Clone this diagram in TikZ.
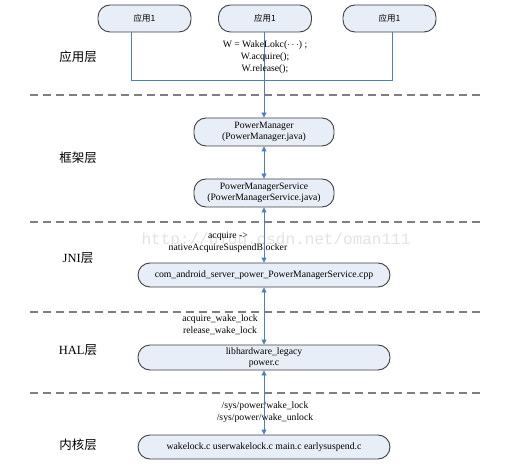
\documentclass[tikz,border=0pt]{standalone}
\usepackage{fontspec}
\setmainfont{Liberation Serif}
\setmonofont{Liberation Mono}
\newfontfamily\cjk{Noto Sans CJK SC}
\usetikzlibrary{arrows.meta,shapes.misc}
\definecolor{boxfill}{HTML}{E8EEF7}
\definecolor{boxline}{HTML}{404040}
\definecolor{linkblue}{HTML}{4A7EC8}
\definecolor{dashgray}{HTML}{7F7F7F}
\tikzset{
  layerbox/.style={draw=boxline, line width=0.9pt, fill=boxfill, rounded corners=12pt,
    font=\fontsize{9.7}{11.5}\selectfont, align=center, inner sep=0pt},
  appbox/.style={layerbox, minimum width=93pt, minimum height=27pt, font=\cjk\fontsize{8.5}{10}\selectfont},
  layerlabel/.style={font=\cjk\fontsize{12.5}{14}\selectfont, anchor=center},
  note/.style={font=\fontsize{9.7}{12}\selectfont, align=center, inner sep=0pt},
  link/.style={draw=linkblue, line width=0.9pt},
  tip/.style={-{Triangle[width=5pt,length=5pt]}},
  biarrow/.style={link, {Triangle[width=5pt,length=5pt]}-{Triangle[width=5pt,length=5pt]}},
  divider/.style={draw=dashgray, line width=1.6pt, dash pattern=on 8pt off 5pt}
}
\begin{document}
\begin{tikzpicture}[x=1pt,y=-1pt]
\useasboundingbox (0,0) rectangle (524,470);
\fill[white] (0,0) rectangle (524,470);

% watermark
\node[font=\ttfamily\fontsize{16}{16}\selectfont, text=black!11, inner sep=0pt] (wm) at (276,240) {http://blog.csdn.net/oman111};

% dividers
\coordinate (d1l) at (30,95);  \coordinate (d1r) at (480,95);
\coordinate (d2l) at (30,222); \coordinate (d2r) at (480,222);
\coordinate (d3l) at (30,312); \coordinate (d3r) at (480,312);
\coordinate (d4l) at (30,393); \coordinate (d4r) at (480,393);
\draw[divider] (d1l) -- (d1r);
\draw[divider] (d2l) -- (d2r);
\draw[divider] (d3l) -- (d3r);
\draw[divider] (d4l) -- (d4r);

% layer labels
\node[layerlabel] (l1) at (78,57) {应用层};
\node[layerlabel] (l2) at (78,158) {框架层};
\node[layerlabel] (l3) at (78,258) {{\rmfamily JNI}层};
\node[layerlabel] (l4) at (78,350) {{\rmfamily HAL}层};
\node[layerlabel] (l5) at (78,445) {内核层};

% app boxes
\node[appbox] (app1) at (144.5,18.5) {应用1};
\node[appbox] (app2) at (265,18.5) {应用1};
\node[appbox] (app3) at (389.5,18.5) {应用1};

% layer boxes
\node[layerbox, minimum width=140pt, minimum height=28pt] (pm) at (264,132) {PowerManager\\(PowerManager.java)};
\node[layerbox, minimum width=140pt, minimum height=28pt] (pms) at (264,193) {PowerManagerService\\(PowerManagerService.java)};
\node[layerbox, minimum width=252pt, minimum height=24pt] (jni) at (264,275) {com\_android\_server\_power\_PowerManagerService.cpp};
\node[layerbox, minimum width=252pt, minimum height=25pt] (hal) at (264,357.5) {libhardware\_legacy\\power.c};
\node[layerbox, minimum width=252pt, minimum height=24pt] (kern) at (264,447) {wakelock.c userwakelock.c main.c earlysuspend.c};

% app connectors
\coordinate (j1) at (131,80);
\coordinate (j3) at (392,80);
\draw[link] (j1 |- app1.south) -- (j1) -- (j3) -- (j3 |- app3.south);
\coordinate (c0) at (264,32);
\draw[link, tip] (c0) -- (pm.north);

% notes
\node[note] (n1) at (265,57) {W = WakeLokc($\cdots$) ;\\W.acquire();\\W.release();};
\node[note] (n2) at (228,242) {acquire -\textgreater\\nativeAcquireSuspendBlocker};
\node[note] (n3) at (220,325) {acquire\_wake\_lock\\release\_wake\_lock};
\node[note] (n4) at (265,412.5) {/sys/power/wake\_lock\\/sys/power/wake\_unlock};

% vertical arrows
\draw[biarrow] (pm.south) -- (pms.north);
\draw[biarrow] (pms.south) -- (jni.north);
\draw[biarrow] (jni.south) -- (hal.north);
\draw[biarrow] (hal.south) -- (kern.north);
\end{tikzpicture}
\end{document}
